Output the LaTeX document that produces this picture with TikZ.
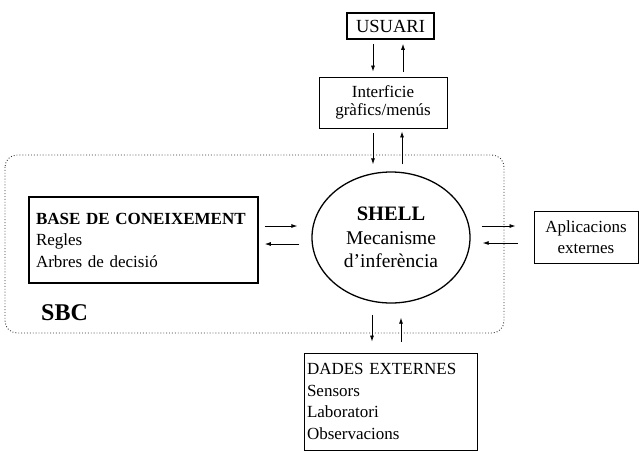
\documentclass[tikz,border=0pt]{standalone}
\usepackage{fontspec}
\setmainfont{Liberation Serif}
\usetikzlibrary{arrows.meta,shapes.geometric,calc}

\begin{document}
\begin{tikzpicture}[x=1pt,y=-1pt,
  txt/.style={font=\fontsize{17}{21.5}\selectfont},
  box/.style={txt, draw, line width=0.9pt, inner sep=0pt, align=center},
  thickbox/.style={box, line width=1.6pt},
  flow/.style={line width=0.8pt, -{Latex[length=6pt,width=4pt]}},
  sbcframe/.style={draw=black!80, dotted, line width=0.9pt, rounded corners=12pt}]
\path[use as bounding box] (0,0) rectangle (640,451);

% knowledge-based system boundary
\draw[sbcframe] (5,155) rectangle (504,333);
\node[font=\bfseries\fontsize{24}{28}\selectfont, inner sep=0pt] (sbc) at (64.5,313) {SBC};

% components
\node[thickbox, minimum width=87, minimum height=26, font=\fontsize{18.5}{22}\selectfont] (usuari) at (390.5,26) {USUARI};
\node[box, minimum width=128, minimum height=51, font=\fontsize{17}{18}\selectfont] (interf) at (383,102.5) {Interficie\\gràfics/menús};
\node[thickbox, minimum width=229, minimum height=86, align=left, text width=215] (base) at (143.5,240)
  {\textbf{BASE DE CONEIXEMENT}\\Regles\\Arbres de decisió};
\node[draw, ellipse, line width=1.3pt, minimum width=158, minimum height=131, inner sep=0pt, align=center,
      font=\fontsize{19.5}{23.5}\selectfont] (shell) at (391,237.5)
  {{\fontsize{20.5}{23.5}\selectfont\textbf{SHELL}}\\Mecanisme\\d’inferència};
\node[box, minimum width=104, minimum height=52] (apl) at (586,237) {Aplicacions\\externes};
\node[box, minimum width=173, minimum height=97, align=left, text width=167] (dades) at (390.5,401.5)
  {DADES EXTERNES\\Sensors\\Laboratori\\Observacions};

% user <-> interface
\draw[flow] ($(usuari.south)+(-17.5,4)$) -- ($(interf.north)+(-10,-5)$);
\draw[flow] ($(interf.north)+(20,-5)$) -- ($(usuari.south)+(12.5,4)$);
% interface <-> shell
\draw[flow] ($(interf.south)+(-10,5)$) -- ($(shell.north)+(-18,-7)$);
\draw[flow] ($(shell.north)+(11,-7)$) -- ($(interf.south)+(19,3)$);
% knowledge base <-> shell
\draw[flow] ($(base.east)+(6,-14)$) -- ($(shell.west)+(-14,-11.5)$);
\draw[flow] ($(shell.west)+(-12,6.5)$) -- ($(base.east)+(6,4)$);
% shell <-> external applications
\draw[flow] ($(shell.east)+(11,-11.5)$) -- ($(apl.west)+(-18,-11)$);
\draw[flow] ($(apl.west)+(-16,6)$) -- ($(shell.east)+(12,5.5)$);
% shell <-> external data
\draw[flow] ($(shell.south)+(-19,11)$) -- ($(dades.north)+(-18.5,-11)$);
\draw[flow] ($(dades.north)+(10.5,-11)$) -- ($(shell.south)+(10,14)$);
\end{tikzpicture}
\end{document}
